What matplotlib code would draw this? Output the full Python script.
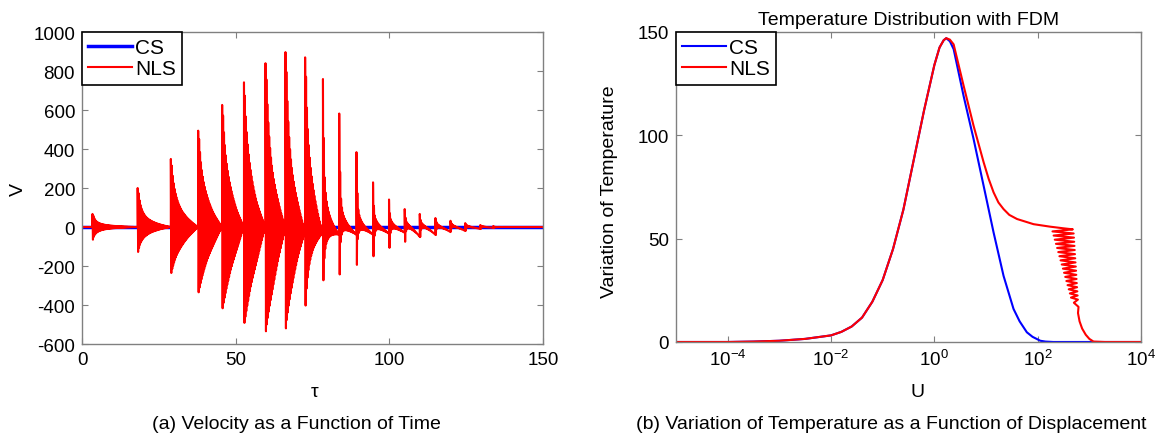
import numpy as np
import matplotlib
matplotlib.use("Agg")
import matplotlib.pyplot as plt
from matplotlib.ticker import FixedLocator, NullLocator

plt.rcParams['font.family'] = ['Liberation Sans', 'DejaVu Sans']
plt.rcParams['mathtext.fontset'] = 'custom'
plt.rcParams['mathtext.rm'] = 'Liberation Sans'
plt.rcParams['axes.unicode_minus'] = False

### (a) velocity bursts ###
burst_tau = [3.4, 18.1, 28.9, 37.8, 45.6, 52.7, 59.7, 66.2, 72.6, 78.4, 83.7,
             89.3, 94.7, 99.9, 105.0, 109.9, 115.0, 119.9, 124.7, 129.6, 133.8]
burst_peak = [67, 200, 349, 494, 626, 742, 840, 897, 870, 759, 582,
              384, 229, 141, 92, 67, 46, 32, 20, 10, 5]
burst_trough = [-65, -128, -236, -335, -417, -492, -535, -520, -414, -288, -258,
                -207, -161, -116, -83, -58, -46, -26, -22, -12, -5]
# how wide (in tau) the upper / lower ringing body of each burst is
body_up = [0.9, 1.0, 1.4, 1.6, 1.6, 1.5, 1.4, 1.2, 1.0, 0.2, 0.12,
           0.1, 0.1, 0.1, 0.1, 0.1, 0.1, 0.1, 0.1, 0.1, 0.1]
body_lo = [1.0, 1.5, 3.2, 4.0, 4.5, 4.7, 4.5, 3.5, 1.3, 0.55, 0.2,
           0.2, 0.2, 0.2, 0.2, 0.2, 0.2, 0.2, 0.2, 0.2, 0.2]
# slow swing after a burst: value just after it, value just before the next
tail_start = [0, 0, 0, 0, 0, 0, 0, 0, 30, 40, 40, 35, 30, 25, 20, 18, 15, 12, 8, 5, 0]
tail_end = [0, 0, 0, 0, 0, 0, 0, -20, -30, -40, -40, -40, -35, -30, -50, -40,
            -26, -20, -10, -4, 0]
tau_max = 150

### (b) temperature curves, x given as log10(U) ###
rise_logu = [-5.0, -4.0, -3.5, -3.0, -2.5, -2.0, -1.8, -1.6, -1.4, -1.2, -1.0,
             -0.8, -0.6, -0.4, -0.2, 0.0, 0.1, 0.18, 0.23]
rise_temp = [0, 0, 0.2, 0.6, 1.5, 3.2, 4.9, 7.5, 11.8, 19.5, 30,
             45, 64, 88, 112, 134, 142.5, 146, 147]
cs_logu = [0.3, 0.373, 0.566, 0.759, 0.953, 1.146, 1.339, 1.532, 1.65, 1.79,
           1.9, 2.05, 2.15, 2.3, 4.0]
cs_temp = [145.5, 141.7, 119, 98.2, 75.6, 53, 32, 16, 10, 4.7,
           2.5, 0.6, 0.2, 0, 0]
nls_logu = [0.3, 0.373, 0.566, 0.759, 0.953, 1.05, 1.146, 1.24, 1.339, 1.45,
            1.6, 1.92, 2.24, 2.5, 2.68,
            2.286, 2.696, 2.308, 2.702, 2.33, 2.707, 2.353, 2.712, 2.376, 2.717,
            2.398, 2.722, 2.42, 2.727, 2.442, 2.732, 2.465, 2.738, 2.488, 2.743,
            2.51, 2.748, 2.532, 2.753, 2.554, 2.758, 2.577, 2.763, 2.6, 2.768,
            2.622, 2.773, 2.644, 2.778, 2.70, 2.79, 2.78, 2.81, 2.86, 2.93, 3.0,
            3.08, 3.3, 4.0]
nls_temp = [146.3, 144, 124, 104.6, 87, 79, 72.4, 67.5, 64.3, 61.5,
            59.5, 57, 55.8, 55, 54.5,
            53.5, 52.5, 51.5, 50.5, 49.5, 48.5, 47.5, 46.5, 45.5, 44.5,
            43.5, 42.5, 41.5, 40.5, 39.5, 38.5, 37.5, 36.5, 35.5, 34.5,
            33.5, 32.5, 31.5, 30.5, 29.5, 28.5, 27.5, 26.5, 25.5, 24.5,
            23.5, 22.5, 21.5, 20.5, 19, 17, 14, 10, 6.5, 3.5, 1.5,
            0.2, 0, 0]


def velocity_trace():
    taus = [np.arange(0, burst_tau[0], 0.05)]
    vals = [np.zeros(len(taus[0]))]
    for k in range(len(burst_tau)):
        t0 = burst_tau[k]
        if k + 1 < len(burst_tau):
            T = burst_tau[k + 1] - t0
        else:
            T = 5.0
        s = np.arange(0, T, 0.01)
        u = s / T
        late = np.clip(s - 0.15, 0, None)
        env_up = (1 - u ** 2) / (1 + late / body_up[k])
        env_lo = (1 - u ** 2) / (1 + late / body_lo[k])
        osc = np.cos(2 * np.pi * s / 0.3)
        ring = np.where(osc > 0, burst_peak[k] * env_up, -burst_trough[k] * env_lo) * osc
        tail = tail_start[k] * (1 - u) ** 3 + tail_end[k] * u ** 2
        taus.append(t0 + s)
        vals.append(ring + tail * (1 - np.exp(-s / 0.3)))
    end = taus[-1][-1]
    rest = np.arange(end, tau_max + 0.05, 0.05)
    taus.append(rest)
    vals.append(np.zeros(len(rest)))
    return np.concatenate(taus), np.concatenate(vals)


def style_axes(ax):
    for sp in ax.spines.values():
        sp.set_color('#808080')
        sp.set_linewidth(1.0)
    ax.tick_params(direction='in', length=4, width=0.8, color='#808080',
                   top=True, right=True, labelsize=13.5, labelcolor='black', pad=5)


def add_legend(ax):
    leg = ax.legend(loc='upper left', borderaxespad=0, fancybox=False,
                    framealpha=1, edgecolor='black', fontsize=15,
                    handlelength=2.1, handletextpad=0.15, labelspacing=0.1,
                    borderpad=0.3)
    leg.get_frame().set_linewidth(1.2)


def velocity_plot(fig):
    ax = fig.add_axes([0.0709, 0.2141, 0.3984, 0.7107])
    tau, v = velocity_trace()
    ax.plot([0, tau_max], [0, 0], color='#0000ff', lw=2.5, label='CS')
    ax.plot(tau, v, color='#ff0000', lw=1.5, label='NLS')
    ax.set_xlim(0, tau_max)
    ax.set_ylim(-600, 1000)
    ax.set_xticks([0, 50, 100, 150])
    ax.set_yticks(np.arange(-600, 1001, 200))
    style_axes(ax)
    add_legend(ax)
    fig.text(18 / 1157, 1 - 190 / 439, 'V', rotation=90, ha='center', va='center', fontsize=14)
    fig.text(315 / 1157, 1 - 393 / 439, 'τ', ha='center', va='center', fontsize=14)
    fig.text(296 / 1157, 1 - 425 / 439, '(a) Velocity as a Function of Time',
             ha='center', va='center', fontsize=14)


def temperature_plot(fig):
    ax = fig.add_axes([0.5843, 0.2187, 0.4019, 0.7062])
    cs_x = 10 ** np.array(rise_logu + cs_logu)
    cs_y = rise_temp + cs_temp
    nls_x = 10 ** np.array(rise_logu + nls_logu)
    nls_y = rise_temp + nls_temp
    ax.plot(cs_x, cs_y, color='#0000ff', lw=1.5, label='CS')
    ax.plot(nls_x, nls_y, color='#ff0000', lw=1.5, label='NLS')
    ax.set_xscale('log')
    ax.set_xlim(1e-5, 1e4)
    ax.set_ylim(0, 150)
    ax.xaxis.set_major_locator(FixedLocator([1e-4, 1e-2, 1e0, 1e2, 1e4]))
    ax.xaxis.set_minor_locator(NullLocator())
    ax.set_yticks([0, 50, 100, 150])
    style_axes(ax)
    add_legend(ax)
    ax.set_title('Temperature Distribution with FDM', fontsize=14, pad=6)
    fig.text(610 / 1157, 1 - 192 / 439, 'Variation of Temperature', rotation=90,
             ha='center', va='center', fontsize=14)
    fig.text(917 / 1157, 1 - 393 / 439, 'U', ha='center', va='center', fontsize=14)
    fig.text(891 / 1157, 1 - 425 / 439,
             '(b) Variation of Temperature as a Function of Displacement',
             ha='center', va='center', fontsize=14)


def main():
    fig = plt.figure(figsize=(11.57, 4.39), dpi=100)
    velocity_plot(fig)
    temperature_plot(fig)
    fig.savefig('out.png', dpi=100)


if __name__ == "__main__":
    main()
